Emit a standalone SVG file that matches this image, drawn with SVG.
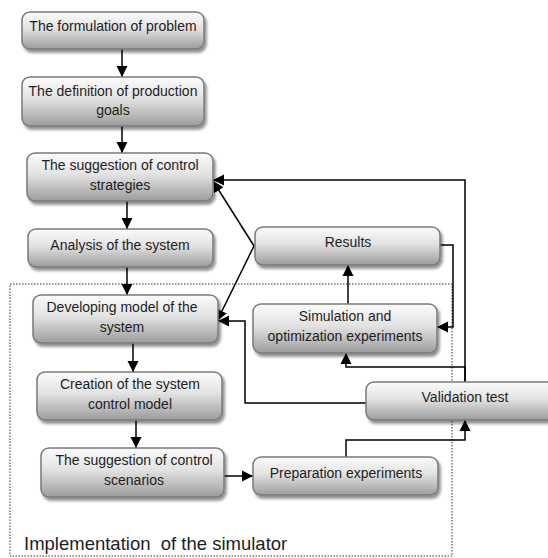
<svg xmlns="http://www.w3.org/2000/svg" width="548" height="558" viewBox="0 0 548 558">
<style>
.box{fill:url(#g);stroke:#7a7a7a;stroke-width:1.5;filter:url(#sh)}
.t{font-family:"Liberation Sans",Arial,sans-serif;font-size:14px;fill:#1e1e1e;text-anchor:middle}
.c{fill:none;stroke:#000;stroke-width:1.5}
.a{marker-end:url(#ar)}
.dot{fill:none;stroke:#333;stroke-width:1;stroke-dasharray:1.5 1.5}
</style>
<defs>
<linearGradient id="g" x1="0" y1="0" x2="0" y2="1">
<stop offset="0" stop-color="#fbfbfb"/>
<stop offset="0.45" stop-color="#e2e2e2"/>
<stop offset="1" stop-color="#9c9c9c"/>
</linearGradient>
<filter id="sh" x="-10%" y="-20%" width="125%" height="150%">
<feGaussianBlur in="SourceAlpha" stdDeviation="1.5"/>
<feOffset dx="1.5" dy="2.5" result="b"/>
<feComponentTransfer><feFuncA type="linear" slope="0.45"/></feComponentTransfer>
<feMerge><feMergeNode/><feMergeNode in="SourceGraphic"/></feMerge>
</filter>
<marker id="ar" markerUnits="userSpaceOnUse" markerWidth="12" markerHeight="12" refX="11" refY="5.5" orient="auto" viewBox="0 0 12 11">
<path d="M0,0 L11,5.5 L0,11 z" fill="#000"/>
</marker>
</defs>

<rect class="dot" x="10" y="284" width="442" height="272"/>
<text x="24" y="550" style="font-family:'Liberation Sans',Arial,sans-serif;font-size:18.5px;fill:#1e1e1e;white-space:pre">Implementation  of the simulator</text>

<g id="connectors">
<line class="c a" x1="122" y1="49" x2="122" y2="77"/>
<line class="c a" x1="122" y1="126" x2="122" y2="153"/>
<line class="c a" x1="127" y1="201" x2="127" y2="229"/>
<line class="c a" x1="127" y1="267" x2="127" y2="295"/>
<line class="c a" x1="133" y1="343" x2="133" y2="372"/>
<line class="c a" x1="136" y1="420" x2="136" y2="448"/>
<line class="c a" x1="224" y1="476" x2="253" y2="476"/>
<polyline class="c a" points="346,457 346,440 465,440 465,420"/>
<polyline class="c a" points="465,382 465,367 346,367 346,353"/>
<polyline class="c a" points="465,382 465,180 213,180"/>
<polyline class="c a" points="366,403 245,403 245,321 218,321"/>
<line class="c a" x1="348" y1="304" x2="348" y2="265"/>
<polyline class="c a" points="440,245 453,245 453,327 437,327"/>
<line class="c a" x1="254" y1="246" x2="213" y2="181"/>
<line class="c a" x1="254" y1="246" x2="217" y2="321"/>
</g>

<g id="n1"><rect class="box" x="22" y="12" width="182" height="37" rx="8"/><text class="t" x="113" y="31">The formulation of problem</text></g>
<g id="n2"><rect class="box" x="22" y="77" width="182" height="49" rx="8"/><text class="t" x="113" y="96">The definition of production</text><text class="t" x="113" y="115">goals</text></g>
<g id="n3"><rect class="box" x="27" y="153" width="186" height="48" rx="8"/><text class="t" x="120" y="170">The suggestion of control</text><text class="t" x="120" y="190">strategies</text></g>
<g id="n4"><rect class="box" x="28" y="229" width="185" height="38" rx="8"/><text class="t" x="120" y="250">Analysis of the system</text></g>
<g id="n5"><rect class="box" x="33" y="295" width="185" height="48" rx="8"/><text class="t" x="122" y="312">Developing model of the</text><text class="t" x="122" y="332">system</text></g>
<g id="n6"><rect class="box" x="37" y="372" width="185" height="48" rx="8"/><text class="t" x="130" y="389">Creation of the system</text><text class="t" x="130" y="409">control model</text></g>
<g id="n7"><rect class="box" x="41" y="448" width="183" height="49" rx="8"/><text class="t" x="134" y="465">The suggestion of control</text><text class="t" x="134" y="485">scenarios</text></g>
<g id="n8"><rect class="box" x="253" y="457" width="185" height="38" rx="8"/><text class="t" x="346" y="478">Preparation experiments</text></g>
<g id="n9"><rect class="box" x="366" y="382" width="190" height="38" rx="8"/><text class="t" x="465" y="402">Validation test</text></g>
<g id="n10"><rect class="box" x="253" y="304" width="184" height="49" rx="8"/><text class="t" x="345" y="321">Simulation and</text><text class="t" x="345" y="341">optimization experiments</text></g>
<g id="n11"><rect class="box" x="255" y="227" width="185" height="38" rx="8"/><text class="t" x="348" y="247">Results</text></g>
</svg>
